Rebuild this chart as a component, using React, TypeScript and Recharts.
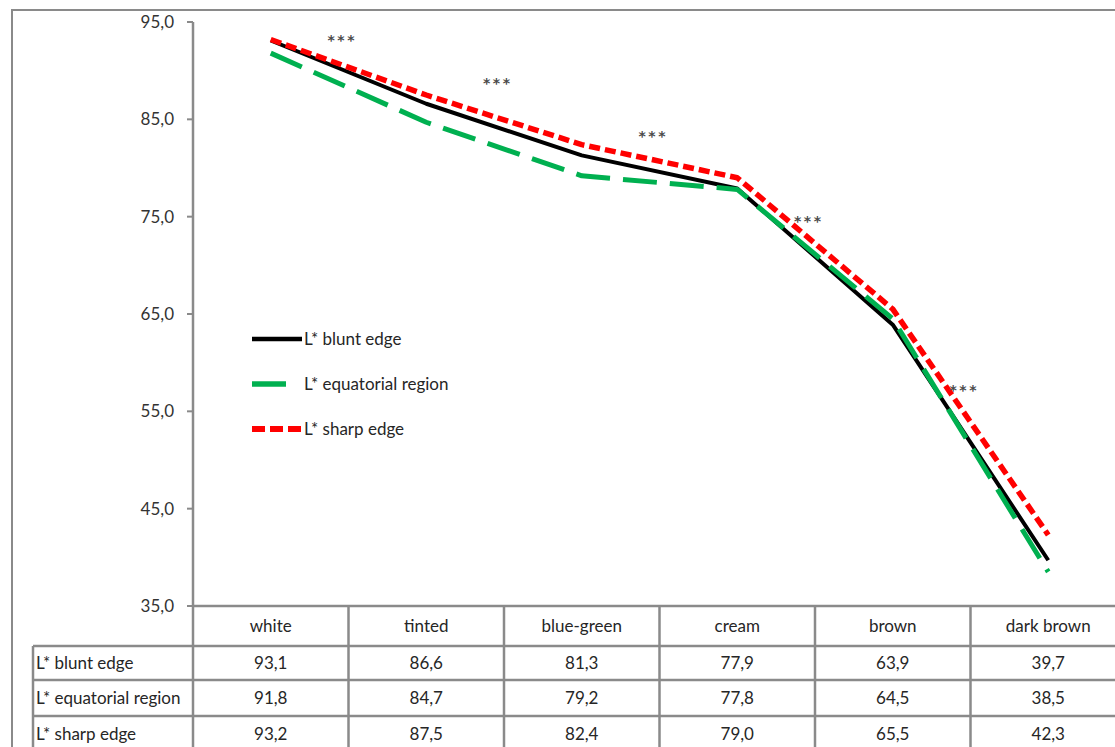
import React from 'react';
import { LineChart, Line, XAxis, YAxis, Legend, ReferenceDot } from 'recharts';

const categories = ['white', 'tinted', 'blue-green', 'cream', 'brown', 'dark brown'];
const bluntEdge = [93.1, 86.6, 81.3, 77.9, 63.9, 39.7];
const equatorialRegion = [91.8, 84.7, 79.2, 77.8, 64.5, 38.5];
const sharpEdge = [93.2, 87.5, 82.4, 79.0, 65.5, 42.3];
const yTicks = [35, 45, 55, 65, 75, 85, 95];
const seriesNames = ['L* blunt edge', 'L* equatorial region', 'L* sharp edge'];
const starCategories = ['tinted', 'blue-green', 'cream', 'brown', 'dark brown'];
const starValues = [93.25, 88.84, 83.39, 74.66, 57.29];

const data = categories.map((c, i) => ({
  category: c,
  blunt: bluntEdge[i],
  equatorial: equatorialRegion[i],
  sharp: sharpEdge[i],
}));

const series = [
  { key: 'blunt', name: seriesNames[0], values: bluntEdge, color: '#000000', width: 4, dash: undefined as string | undefined, legendDash: undefined as string | undefined },
  { key: 'equatorial', name: seriesNames[1], values: equatorialRegion, color: '#00B050', width: 5, dash: '34 13', legendDash: '34 30' },
  { key: 'sharp', name: seriesNames[2], values: sharpEdge, color: '#FF0000', width: 5.5, dash: '11 5', legendDash: '13 5' },
];

const FONT = 'Lato, "Open Sans", sans-serif';
const FS = 17;
const GRID = '#8a8a8a';
const TEXT = '#262626';

const CHART_W = 1140;
const CHART_H = 760;
const MARGIN = { top: 22, right: 14, bottom: 4, left: 0 };
const YAXIS_W = 193;
const XAXIS_H = 150;
const PLOT_W = CHART_W - MARGIN.left - MARGIN.right - YAXIS_W;
const BAND = PLOT_W / categories.length;
const HALF = BAND / 2;

const fmt = (v: number) => v.toFixed(1).replace('.', ',');

const ROW_LINES = [40, 74, 110, 146];
const ROW_MIDS = [57, 92, 128];

const TableTick = (props: any) => {
  const { x, y, payload, index } = props;
  const i = typeof index === 'number' ? index : categories.indexOf(payload.value);
  const last = i === categories.length - 1;
  const left = x - HALF;
  const right = x + HALF;
  const labelLeft = left - 160;
  return (
    <g>
      <text x={x} y={y + 26} textAnchor="middle" fontFamily={FONT} fontSize={FS} fill={TEXT}>
        {payload.value}
      </text>
      <line x1={left} y1={y} x2={left} y2={y + 170} stroke={GRID} strokeWidth={2.5} />
      {last && <line x1={right} y1={y} x2={right} y2={y + 170} stroke={GRID} strokeWidth={2.5} />}
      {ROW_LINES.map((dy) => (
        <line key={dy} x1={left} y1={y + dy} x2={right} y2={y + dy} stroke={GRID} strokeWidth={2.5} />
      ))}
      {series.map((s, r) => (
        <text key={s.key} x={x} y={y + ROW_MIDS[r] + 6} textAnchor="middle" fontFamily={FONT} fontSize={FS} fill={TEXT}>
          {fmt(s.values[i])}
        </text>
      ))}
      {i === 0 && (
        <g>
          <line x1={labelLeft} y1={y + 40} x2={labelLeft} y2={y + 170} stroke={GRID} strokeWidth={2.5} />
          {ROW_LINES.map((dy) => (
            <line key={'l' + dy} x1={labelLeft} y1={y + dy} x2={left} y2={y + dy} stroke={GRID} strokeWidth={2.5} />
          ))}
          {series.map((s, r) => (
            <text key={'n' + s.key} x={labelLeft + 3} y={y + ROW_MIDS[r] + 6} textAnchor="start" fontFamily={FONT} fontSize={FS} fill={TEXT}>
              {s.name}
            </text>
          ))}
        </g>
      )}
    </g>
  );
};

const renderLegend = () => (
  <div style={{ fontFamily: FONT, fontSize: FS, color: TEXT }}>
    {series.map((s) => (
      <div key={s.key} style={{ display: 'flex', alignItems: 'center', height: 45 }}>
        <svg width={54} height={10} style={{ display: 'block' }}>
          <line x1={2} y1={5} x2={52} y2={5} stroke={s.color} strokeWidth={s.width + 0.5} strokeDasharray={s.legendDash} />
        </svg>
        <span>{s.name}</span>
      </div>
    ))}
  </div>
);

const StarShape = (p: any) => (
  <text x={p.cx - 84} y={p.cy + 6} textAnchor="middle" fontFamily='"DejaVu Sans", sans-serif' fontSize={14} fontWeight={700} fill="#4a4a4a" letterSpacing={2.5}>
    ***
  </text>
);

export default function App() {
  return (
    <div style={{ position: 'absolute', left: 0, top: 0, width: 1115, height: 747, overflow: 'hidden', background: '#ffffff' }}>
      <div
        style={{
          position: 'absolute',
          left: 11,
          top: 9,
          width: 1300,
          height: 900,
          borderLeft: `2.5px solid ${GRID}`,
          borderTop: `2.5px solid ${GRID}`,
        }}
      />
      <div style={{ position: 'absolute', left: 0, top: 0 }}>
        <LineChart width={CHART_W} height={CHART_H} data={data} margin={MARGIN}>
          <XAxis
            dataKey="category"
            type="category"
            interval={0}
            height={XAXIS_H}
            padding={{ left: HALF, right: HALF }}
            axisLine={{ stroke: GRID, strokeWidth: 2.5 }}
            tickLine={false}
            tickSize={0}
            tickMargin={0}
            tick={<TableTick />}
          />
          <YAxis
            type="number"
            domain={[35, 95]}
            ticks={yTicks}
            width={YAXIS_W}
            allowDataOverflow
            axisLine={{ stroke: GRID, strokeWidth: 2.5 }}
            tickLine={{ stroke: GRID, strokeWidth: 2 }}
            tickSize={6}
            tickMargin={13}
            tickFormatter={fmt}
            tick={{ fontFamily: FONT, fontSize: FS, fill: '#333333' }}
          />
          <Legend
            content={renderLegend}
            layout="horizontal"
            verticalAlign="middle"
            align="center"
            wrapperStyle={{ position: 'absolute', left: 250, top: 316, width: 260 }}
          />
          {series.map((s) => (
            <Line
              key={s.key}
              type="linear"
              dataKey={s.key}
              name={s.name}
              stroke={s.color}
              strokeWidth={s.width}
              strokeDasharray={s.dash}
              strokeLinejoin="round"
              dot={false}
              activeDot={false}
              isAnimationActive={false}
            />
          ))}
          {starCategories.map((c, i) => (
            <ReferenceDot key={c} x={c} y={starValues[i]} r={1} ifOverflow="visible" shape={StarShape} />
          ))}
        </LineChart>
      </div>
    </div>
  );
}
